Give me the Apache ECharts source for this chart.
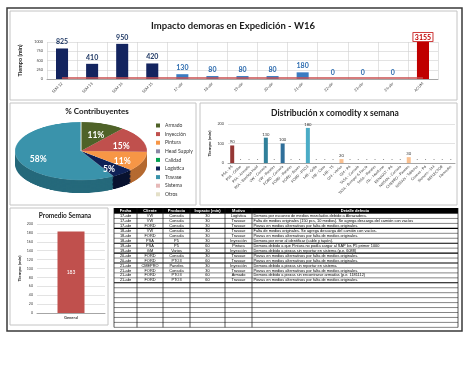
<!DOCTYPE html>
<html><head><meta charset="utf-8">
<script src="https://cdn.jsdelivr.net/npm/echarts@6/dist/echarts.min.js"></script>
<style>
html,body{margin:0;padding:0;background:#fff;}
#pie{position:absolute;left:0;top:0;width:474px;height:366px;transform-origin:81px 151px;transform:scaleY(0.44);}
#main{position:absolute;left:0;top:0;width:474px;height:366px;}
</style></head><body>
<div id="pie"></div><div id="main"></div>
<script>
// ---------- DATA ----------
const topCats = ['SEM 12','SEM 13','SEM 14','SEM 15','17-abr','18-abr','19-abr','20-abr','21-abr','22-abr','23-abr','24-abr','ACUM'];
const topValues = [825,410,950,420,130,80,80,80,180,0,0,0,3155];
const topTarget = [30,30,30,30,30,30,30,30,30,30,30,30,30];

const pieNames = ['Armado','Inyección','Pintura','Head Supply','Calidad','Logística','Travase','Sistema','Otros'];
const pieValues = [60,80,60,0,0,30,320,0,0];

const distCats = ['PSA - P5','PSA - Grillas','PSA - Armado','PSA - Bandeja Hold','VW - Consola','VW - Paneles','FORD - Consola','FORD - Paneles','FORD - Boxes','FORD - PTO3','MB - Grilla','MB - Cielo','MB - TS','GM - Varios','GM - P6','TASA - Consola','TASA - Bumper & Fascia','TASA - Paneles','ITA - Molduras','RENAULT - P6','NISSAN - Consola','CMEPRO - Paneles','NISSAN - Tableros','Cenexa - P6','Siemens - SM','REFLECTOR','Mercedes'];
const distValues = [90,0,0,0,130,0,100,0,0,180,0,0,0,20,0,0,0,0,0,0,0,30,0,0,0,0,0];

const avgCats = ['General'];
const avgValues = [183];

const tblHeader = ['Fecha','Cliente','Producto','Impacto (min)','Motivo','Detalle defecto'];
const tblFecha = ['17-abr','17-abr','17-abr','18-abr','18-abr','18-abr','19-abr','19-abr','20-abr','20-abr','21-abr','21-abr','21-abr','21-abr'];
const tblCliente = ['VW','VW','FORD','VW','FORD','PSA','PSA','GM','FORD','FORD','CMEPRO','FORD','FORD','FORD'];
const tblProducto = ['Consola','Consola','Consola','Consola','Consola','P5','P5','Varios','Consola','PTO3','Paneles','Consola','PTO3','PTO3'];
const tblImpacto = [30,30,30,30,30,30,60,30,30,60,30,30,60,60];
const tblMotivo = ['Logística','Travase','Travase','Travase','Travase','Inyección','Pintura','Inyección','Travase','Travase','Inyección','Travase','Armado','Travase'];
const tblDetalle = [
 'Demora por escaneo de medios mezclados debido a Abrazadera.',
 'Falta de medios originales (150 pcs, 10 medios). Se agrega descarga del camión con vacíos',
 'Piezas en medios alternativos por falta de medios originales.',
 'Falta de medios originales. Se agrega descarga del camión con vacíos.',
 'Piezas en medios alternativos por falta de medios originales.',
 'Demora por error al identificar (cable y tapón).',
 'Demora debido a que Pintura no podía cargar al SAP los P5 primer 1000',
 'Demora debido a piezas sin reportar en sistema (p.e. 6088)',
 'Piezas en medios alternativos por falta de medios originales.',
 'Piezas en medios alternativos por falta de medios originales.',
 'Demora debido a piezas sin reportar en sistema.',
 'Piezas en medios alternativos por falta de medios originales.',
 'Demora debido a piezas sin encontrarse armadas (p.e. 1181112)',
 'Piezas en medios alternativos por falta de medios originales.'
];
const tblEmptyRows = 9;

// ---------- STYLE ----------
const FONT = 'Lato, "Open Sans", sans-serif';
const TFONT = 'Arial, "Liberation Sans", sans-serif';
const pieTop = {'Armado':'#4f6228','Inyección':'#c0504d','Pintura':'#f79646','Head Supply':'#8d89a6','Calidad':'#00a050','Logística':'#0f2156','Travase':'#3a93ab','Sistema':'#e6b9b8','Otros':'#e4e0c8'};
const pieSide = {'Armado':'#38461c','Inyección':'#8c3a38','Pintura':'#b56a30','Head Supply':'#66637a','Calidad':'#007038','Logística':'#08122f','Travase':'#25697b','Sistema':'#a88786','Otros':'#a8a592'};
const distColor = {'PSA - P5':'#953735','VW - Consola':'#31809a','FORD - Consola':'#2f6f9a','FORD - PTO3':'#4bacc6','GM - Varios':'#fac090','CMEPRO - Paneles':'#fac090'};
const PIE_CX = 81, PIE_CY = 151, PIE_R = 66, PIE_K = 0.44, PIE_DEPTH = 13;

// ---------- 3D-ish PIE (squashed instance) ----------
const pieChart = echarts.init(document.getElementById('pie'), null, {renderer:'canvas'});
const pieSeries = [];
const LAYERS = 10;
for (let i = LAYERS; i >= 1; i--) {
  pieSeries.push({
    type:'pie', silent:true, startAngle:90, clockwise:true,
    center:[PIE_CX, PIE_CY + (PIE_DEPTH / PIE_K) * i / LAYERS], radius:PIE_R,
    label:{show:false}, labelLine:{show:false},
    itemStyle:{borderWidth:0},
    data: pieNames.map((n,k)=>({name:n, value:pieValues[k], itemStyle:{color:pieSide[n]}}))
  });
}
pieSeries.push({
  type:'pie', silent:true, startAngle:90, clockwise:true,
  center:[PIE_CX, PIE_CY], radius:PIE_R,
  label:{show:false}, labelLine:{show:false},
  itemStyle:{borderWidth:0.6, borderColor:'rgba(255,255,255,0.35)'},
  data: pieNames.map((n,k)=>({name:n, value:pieValues[k], itemStyle:{color:pieTop[n]}}))
});
pieChart.setOption({animation:false, backgroundColor:'transparent', series:pieSeries});

// ---------- MAIN ----------
const chart = echarts.init(document.getElementById('main'), null, {renderer:'canvas'});

function topBarColor(n){ return n==='ACUM' ? '#c00000' : (n.indexOf('SEM')===0 ? '#13245f' : '#3a7cc2'); }
function topLblColor(n){ return n==='ACUM' ? '#c00000' : (n.indexOf('SEM')===0 ? '#1f3864' : '#2e6db0'); }

// graphic: frames, titles, table
const g = [];
g.push({type:'rect', shape:{x:7,y:8,width:455,height:323}, style:{fill:'none', stroke:'#3a3a3a', lineWidth:1.5}, silent:true});
const panels = [[10,11,447,89],[10,103,186,102],[200,103,257,102],[10,208,98,117]];
panels.forEach(p=>g.push({type:'rect', shape:{x:p[0],y:p[1],width:p[2],height:p[3]}, style:{fill:'none', stroke:'#c4c4c4', lineWidth:1}, silent:true}));
const titles = [['Impacto demoras en Expedición - W16',233,26,9.5],['% Contribuyentes',97,111,8],['Distribución x comodity x semana',335,113,8.5],['Promedio Semana',65,216,6.5]];
titles.forEach(t=>g.push({type:'text', silent:true, style:{text:t[0], x:t[1], y:t[2], align:'center', verticalAlign:'middle', fill:'#1a1a1a', fontSize:t[3], fontWeight:'bold', fontFamily:FONT}}));

// table
const TX = [114,137,163,190,225,252,458];
const TY0 = 208, TH_H = 5.5, ROW_H = 4.95;
const nData = tblFecha.length, nRows = nData + tblEmptyRows;
const TY_END = TY0 + TH_H + nRows*ROW_H;
g.push({type:'rect', silent:true, shape:{x:TX[0], y:TY0, width:TX[6]-TX[0], height:TH_H}, style:{fill:'#000'}});
tblHeader.forEach((h,c)=>g.push({type:'text', silent:true, style:{text:h, x:(TX[c]+TX[c+1])/2, y:TY0+TH_H/2, align:'center', verticalAlign:'middle', fill:'#fff', fontSize:4, fontWeight:'bold', fontFamily:TFONT}}));
for (let r=0; r<=nRows; r++){
  const y = TY0 + TH_H + r*ROW_H;
  let thick = false;
  if (r>0 && r<nData && tblFecha[r]!==tblFecha[r-1]) thick = true;
  if (r===nData) thick = true;
  g.push({type:'line', silent:true, shape:{x1:TX[0], y1:y, x2:TX[6], y2:y}, style:{stroke: thick?'#000':'#333', lineWidth: thick?1.1:0.6}});
}
TX.forEach(x=>g.push({type:'line', silent:true, shape:{x1:x, y1:TY0, x2:x, y2:TY_END}, style:{stroke:'#111', lineWidth:0.7}}));
for (let r=0; r<nData; r++){
  const y = TY0 + TH_H + r*ROW_H + ROW_H/2;
  const cells = [tblFecha[r], tblCliente[r], tblProducto[r], String(tblImpacto[r]), tblMotivo[r]];
  cells.forEach((t,c)=>g.push({type:'text', silent:true, style:{text:t, x:(TX[c]+TX[c+1])/2, y:y, align:'center', verticalAlign:'middle', fill:'#000', fontSize:3.9, fontFamily:TFONT}}));
  g.push({type:'text', silent:true, style:{text:tblDetalle[r], x:TX[5]+1.5, y:y, align:'left', verticalAlign:'middle', fill:'#000', fontSize:3.9, fontFamily:TFONT, width:TX[6]-TX[5]-2, overflow:'truncate'}});
}

const axisLbl = {fontFamily:FONT, color:'#404040'};

chart.setOption({
  animation:false,
  backgroundColor:'transparent',
  textStyle:{fontFamily:FONT},
  graphic: g,
  legend:{
    orient:'vertical', left:151, top:118, itemWidth:4, itemHeight:4, itemGap:3.6, icon:'rect',
    selectedMode:false,
    textStyle:{fontSize:5, color:'#333', fontFamily:FONT},
    data: pieNames.map(n=>({name:n, itemStyle:{color:pieTop[n], opacity:1}}))
  },
  grid:[
    {left:47, top:42, width:391, height:37, outerBoundsMode:'none'},
    {left:228, top:124, width:227, height:39, outerBoundsMode:'none'},
    {left:37, top:224, width:68, height:89, outerBoundsMode:'none'}
  ],
  xAxis:[
    {type:'category', gridIndex:0, data:topCats,
      axisLine:{lineStyle:{color:'#a6a6a6'}}, axisTick:{show:false},
      splitLine:{show:true, lineStyle:{color:'#d0d0d0', width:0.6}},
      axisLabel:Object.assign({}, axisLbl, {fontSize:3.8, rotate:45, interval:0, margin:4})},
    {type:'category', gridIndex:1, data:distCats,
      axisLine:{lineStyle:{color:'#a6a6a6'}}, axisTick:{show:false},
      axisLabel:Object.assign({}, axisLbl, {fontSize:3.7, rotate:45, interval:0, margin:3})},
    {type:'category', gridIndex:2, data:avgCats,
      axisLine:{lineStyle:{color:'#a6a6a6'}}, axisTick:{show:false},
      axisLabel:Object.assign({}, axisLbl, {fontSize:4, fontWeight:'bold', margin:3})}
  ],
  yAxis:[
    {type:'value', gridIndex:0, min:0, max:1000, interval:250,
      name:'Tiempo (min)', nameLocation:'middle', nameGap:22, nameTextStyle:{fontSize:5.5, fontWeight:'bold', color:'#222', fontFamily:FONT},
      axisLine:{show:false}, axisTick:{show:false},
      splitLine:{lineStyle:{color:'#d0d0d0', width:0.6}},
      axisLabel:Object.assign({}, axisLbl, {fontSize:3.8, margin:4, formatter:v=>String(v)})},
    {type:'value', gridIndex:1, min:0, max:200, interval:100,
      name:'Tiempo (min)', nameLocation:'middle', nameGap:16, nameTextStyle:{fontSize:4.5, fontWeight:'bold', color:'#222', fontFamily:FONT},
      axisLine:{show:false}, axisTick:{show:false},
      splitLine:{lineStyle:{color:'#d0d0d0', width:0.6}},
      axisLabel:Object.assign({}, axisLbl, {fontSize:3.8, margin:4})},
    {type:'value', gridIndex:2, min:0, max:200, interval:20,
      name:'Tiempo (min)', nameLocation:'middle', nameGap:15, nameTextStyle:{fontSize:4.5, fontWeight:'bold', color:'#222', fontFamily:FONT},
      axisLine:{show:false}, axisTick:{show:false},
      splitLine:{lineStyle:{color:'#d0d0d0', width:0.6}},
      axisLabel:Object.assign({}, axisLbl, {fontSize:3.6, margin:4})}
  ],
  series:[
    {type:'bar', name:'Impacto', xAxisIndex:0, yAxisIndex:0, barWidth:'40%', clip:true,
      data: topValues.map((v,i)=>{
        const n = topCats[i];
        const lbl = n==='ACUM'
          ? {color:'#c00000', backgroundColor:'#fff', borderColor:'#c00000', borderWidth:0.8, padding:[1,1.5,0,1.5], distance:1}
          : {color:topLblColor(n)};
        return {value:v, itemStyle:{color:topBarColor(n)}, label:lbl};
      }),
      label:{show:true, position:'top', fontSize:7, fontWeight:'bold', fontFamily:FONT, distance:3}
    },
    {type:'line', name:'Meta', xAxisIndex:0, yAxisIndex:0, data:topTarget, symbol:'none', z:5,
      lineStyle:{color:'rgba(200,80,80,0.75)', width:2}},
    {type:'bar', name:'Distribución', xAxisIndex:1, yAxisIndex:1, barWidth:4,
      data: distValues.map((v,i)=>({value:v, itemStyle:{color: distColor[distCats[i]] || '#4bacc6'}})),
      label:{show:true, position:'top', fontSize:4.2, color:'#333', fontFamily:FONT, distance:1.5,
        formatter:p=> p.value ? String(p.value) : '-'}
    },
    {type:'bar', name:'Promedio', xAxisIndex:2, yAxisIndex:2, barWidth:27,
      data: avgValues, itemStyle:{color:'#c0504d'},
      label:{show:true, position:'inside', fontSize:5, color:'#fff', fontFamily:FONT}
    },
    {type:'pie', name:'Contribuyentes', silent:true, startAngle:90, clockwise:true,
      center:[PIE_CX, PIE_CY], radius:[0, PIE_R*1.25],
      itemStyle:{color:'rgba(0,0,0,0)', borderWidth:0},
      labelLine:{show:false},
      label:{show:true, position:'inside', color:'#fff', fontSize:8.5, fontWeight:'bold', fontFamily:FONT,
        formatter:p=> p.value ? Math.round(p.percent)+'%' : ''},
      labelLayout:function(p){
        const r = p.labelRect;
        const lx = r.x + r.width/2, ly = r.y + r.height/2;
        return {x:lx, y:PIE_CY + (ly-PIE_CY)*PIE_K + 3, align:'center', verticalAlign:'middle'};
      },
      data: pieNames.map((n,k)=>({name:n, value:pieValues[k]}))
    }
  ]
});
</script>
</body></html>
